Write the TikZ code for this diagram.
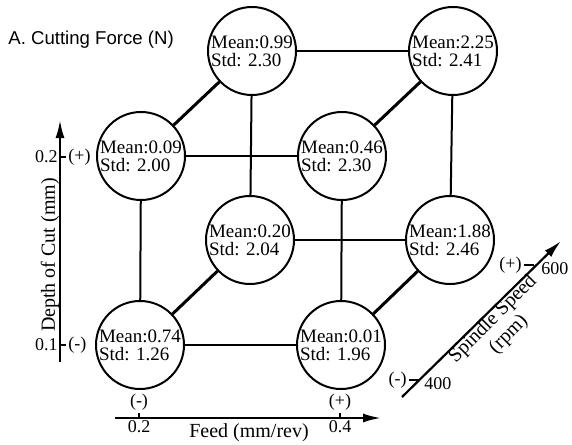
\documentclass[tikz,border=0pt]{standalone}
\usepackage{fontspec}
\setmainfont{Liberation Serif}
\newfontfamily\titlefont{Liberation Sans}
\usetikzlibrary{arrows.meta,positioning,calc}

\begin{document}
\begin{tikzpicture}[x=0.5pt,y=-0.5pt,
  cell/.style={circle,draw,line width=1pt,inner sep=0pt,minimum size=44pt,align=left,
    font=\fontsize{9.5}{9}\selectfont},
  edge/.style={line width=1pt},
  depth/.style={line width=1.5pt},
  axis/.style={line width=1.1pt,-{Latex[length=9pt,width=4.5pt]}},
  tick/.style={font=\fontsize{9}{10}\selectfont,inner sep=1pt},
  lbl/.style={font=\fontsize{10}{11}\selectfont,inner sep=0pt,align=center}]
\useasboundingbox (0,0) rectangle (572,444);

\node[anchor=west,inner sep=0pt,font=\titlefont\fontsize{9.3}{10}\selectfont] (title) at (8,40) {A. Cutting Force (N)};

% Front face (spindle speed 400)
\node[cell] (c000) at (140,345) {Mean:0.74\\Std: 1.26};
\node[cell] (c100) at (341,345) {Mean:0.01\\Std: 1.96};
\node[cell] (c010) at (141,156) {Mean:0.09\\Std: 2.00};
\node[cell] (c110) at (342,156) {Mean:0.46\\Std: 2.30};

% Back face (spindle speed 600)
\node[cell] (c001) at (250,240) {Mean:0.20\\Std: 2.04};
\node[cell] (c101) at (450,240) {Mean:1.88\\Std: 2.46};
\node[cell] (c011) at (252,51) {Mean:0.99\\Std: 2.30};
\node[cell] (c111) at (453,51) {Mean:2.25\\Std: 2.41};

% Edges
\draw[edge] (c000) -- (c100);
\draw[edge] (c010) -- (c110);
\draw[edge] (c000) -- (c010);
\draw[edge] (c100) -- (c110);
\draw[edge] (c001) -- (c101);
\draw[edge] (c011) -- (c111);
\draw[edge] (c001) -- (c011);
\draw[edge] (c101) -- (c111);
\draw[depth] (c000) -- (c001);
\draw[depth] (c100) -- (c101);
\draw[depth] (c010) -- (c011);
\draw[depth] (c110) -- (c111);

% Depth of cut axis
\coordinate (d-lo) at (60,345);
\coordinate (d-hi) at (60,157);
\draw[axis] (60,362) coordinate (d-start) -- (60,120) coordinate (d-end);
\draw[line width=0.8pt] (d-lo) -- ++(6,0) coordinate (d-lo-t);
\draw[line width=0.8pt] (d-hi) -- ++(6,0) coordinate (d-hi-t);
\node[tick,anchor=east] (d-lo-val) at (d-lo) {0.1};
\node[tick,anchor=east] (d-hi-val) at (d-hi) {0.2};
\node[tick,anchor=west] (d-lo-sgn) at (d-lo-t) {(-)};
\node[tick,anchor=west] (d-hi-sgn) at (d-hi-t) {(+)};
\node[lbl,rotate=90] (d-name) at (50,255) {Depth of Cut (mm)};

% Feed axis
\coordinate (f-lo) at (139,418);
\coordinate (f-hi) at (340,418);
\draw[axis] (115,418) coordinate (f-start) -- (381,418) coordinate (f-end);
\draw[line width=0.8pt] (f-lo) -- ++(0,-5) coordinate (f-lo-t);
\draw[line width=0.8pt] (f-hi) -- ++(0,-5) coordinate (f-hi-t);
\node[tick,anchor=south] (f-lo-sgn) at (f-lo-t) {(-)};
\node[tick,anchor=south] (f-hi-sgn) at (f-hi-t) {(+)};
\node[tick,anchor=north] (f-lo-val) at (f-lo) {0.2};
\node[tick,anchor=north] (f-hi-val) at (f-hi) {0.4};
\node[lbl] (f-name) at (249,433) {Feed (mm/rev)};

% Spindle speed axis
\coordinate (s-lo) at (419,380);
\coordinate (s-hi) at (534,265);
\draw[axis] (402,397) coordinate (s-start) -- (561,241) coordinate (s-end);
\draw[line width=0.8pt] (s-lo) -- ++(-10,0) coordinate (s-lo-t);
\draw[line width=0.8pt] (s-hi) -- ++(-10,0) coordinate (s-hi-t);
\node[tick,anchor=east] (s-lo-sgn) at (s-lo-t) {(-)};
\node[tick,anchor=east] (s-hi-sgn) at (s-hi-t) {(+)};
\node[tick,anchor=west] (s-lo-val) at ($(s-lo)+(3,4)$) {400};
\node[tick,anchor=west] (s-hi-val) at ($(s-hi)+(5,4)$) {600};
\node[lbl,rotate=45] (s-name) at (501,327) {Spindle Speed\\(rpm)};

\end{tikzpicture}
\end{document}
